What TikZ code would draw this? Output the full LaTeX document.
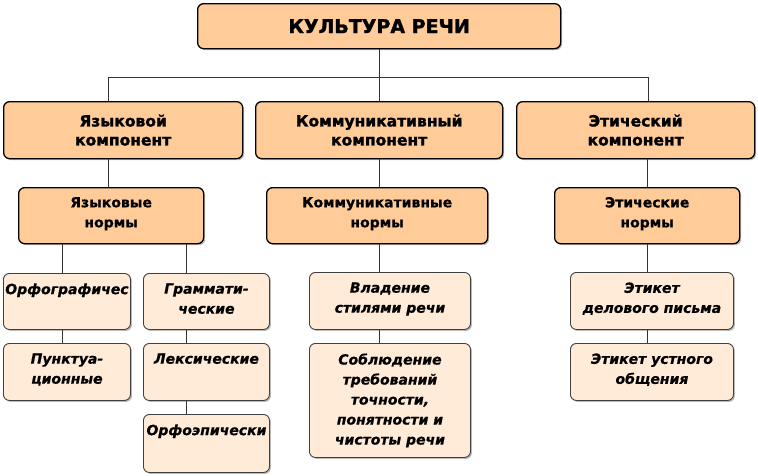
\documentclass[tikz,border=0pt]{standalone}
\usepackage{fontspec}
\setmainfont{DejaVu Sans}
\newfontfamily\heavyfont{DejaVu Sans}[BoldFeatures={FakeBold=1.6}]
\newfontfamily\midfont{DejaVu Sans}[BoldFeatures={FakeBold=0.6}, BoldItalicFeatures={FakeBold=0.6}]
\usetikzlibrary{shadows}
\definecolor{orangefill}{HTML}{FFCC99}
\definecolor{lightfill}{HTML}{FFEBD7}
\tikzset{
  bigbox/.style={draw=black, line width=1.3pt, fill=orangefill, rounded corners=6pt,
    drop shadow={shadow xshift=1.5pt, shadow yshift=-1.5pt, opacity=0.45, fill=black!60}},
  smallbox/.style={draw=black!75, line width=0.9pt, fill=lightfill, rounded corners=6pt,
    drop shadow={shadow xshift=1.5pt, shadow yshift=-1.5pt, opacity=0.45, fill=black!60}},
  conn/.style={draw=black!80, line width=0.8pt},
}
% #1 style, #2 name, #3 x1, #4 y1, #5 x2, #6 y2, #7 inner pos, #8 text
\newcommand\mkbox[8]{%
  \node[#1, anchor=north west, inner sep=0pt] (#2) at (#3,#4)
    {\parbox[c][\dimexpr#6pt-#4pt\relax][#7]{\dimexpr#5pt-#3pt\relax}{\centering #8}};}
\newcommand\lone{\heavyfont\fontsize{19}{20}\selectfont\bfseries}
\newcommand\ltwo{\heavyfont\fontsize{15.5}{19}\selectfont\bfseries}
\newcommand\lthree{\midfont\fontsize{14}{20}\selectfont\bfseries}
\newcommand\lfour{\midfont\fontsize{14}{20}\selectfont\bfseries\itshape}
\begin{document}
\begin{tikzpicture}[x=1pt,y=-1pt]
\useasboundingbox (0,0) rectangle (758,475);
% level 1
\mkbox{bigbox}{top}{197}{3}{560}{48}{c}{\lone КУЛЬТУРА РЕЧИ}
% level 2
\mkbox{bigbox}{yaz}{3}{101}{242}{158}{c}{\ltwo Языковой\\компонент}
\mkbox{bigbox}{komm}{255}{101}{502}{158}{c}{\ltwo Коммуникативный\\компонент}
\mkbox{bigbox}{eth}{516}{101}{754}{158}{c}{\ltwo Этический\\компонент}
% level 3
\mkbox{bigbox}{yazn}{18}{187}{203}{243}{c}{\lthree Языковые\\нормы\vspace*{4pt}}
\mkbox{bigbox}{kommn}{266}{187}{487}{243}{c}{\lthree Коммуникативные\\нормы\vspace*{4pt}}
\mkbox{bigbox}{ethn}{554}{187}{739}{243}{c}{\lthree Этические\\нормы\vspace*{4pt}}
% level 4
\mkbox{smallbox}{orf}{3}{273}{130}{329}{t}{\vspace*{10pt}\lfour Орфографичес}
\mkbox{smallbox}{punk}{3}{343}{130}{400}{t}{\vspace*{10pt}\lfour Пунктуа-\\ционные}
\mkbox{smallbox}{gram}{143}{273}{269}{329}{t}{\vspace*{10pt}\lfour Граммати-\\ческие}
\mkbox{smallbox}{leks}{143}{343}{269}{400}{t}{\vspace*{10pt}\lfour Лексические}
\mkbox{smallbox}{orfo}{143}{414}{269}{472}{t}{\vspace*{10pt}\lfour Орфоэпически}
\mkbox{smallbox}{vlad}{309}{272}{470}{329}{t}{\vspace*{10pt}\lfour Владение\\стилями речи}
\mkbox{smallbox}{sobl}{309}{343}{470}{457}{c}{\lfour Соблюдение\\требований\\точности,\\понятности и\\чистоты речи}
\mkbox{smallbox}{etd}{570}{272}{733}{329}{t}{\vspace*{10pt}\lfour Этикет\\делового письма}
\mkbox{smallbox}{etu}{570}{343}{733}{400}{t}{\vspace*{10pt}\lfour Этикет устного\\общения}
% connector guide coordinates
\coordinate (h1) at (108,77);
\coordinate (h2) at (379,77);
\coordinate (h3) at (648,77);
\coordinate (xa) at (62,0);
\coordinate (xb) at (186,0);
\coordinate (xc) at (379,0);
\coordinate (xd) at (647,0);
% connectors
\draw[conn] (top.south -| h2) -- (komm.north -| h2);
\draw[conn] (yaz.north -| h1) -- (h1) -- (h3) -- (eth.north -| h3);
\draw[conn] (yaz.south -| h1) -- (yazn.north -| h1);
\draw[conn] (komm.south -| xc) -- (kommn.north -| xc);
\draw[conn] (eth.south -| xd) -- (ethn.north -| xd);
\draw[conn] (yazn.south -| xa) -- (orf.north -| xa);
\draw[conn] (orf.south -| xa) -- (punk.north -| xa);
\draw[conn] (yazn.south -| xb) -- (gram.north -| xb);
\draw[conn] (gram.south -| xb) -- (leks.north -| xb);
\draw[conn] (leks.south -| xb) -- (orfo.north -| xb);
\draw[conn] (kommn.south -| xc) -- (vlad.north -| xc);
\draw[conn] (vlad.south -| xc) -- (sobl.north -| xc);
\draw[conn] (ethn.south -| xd) -- (etd.north -| xd);
\draw[conn] (etd.south -| xd) -- (etu.north -| xd);
\end{tikzpicture}
\end{document}
